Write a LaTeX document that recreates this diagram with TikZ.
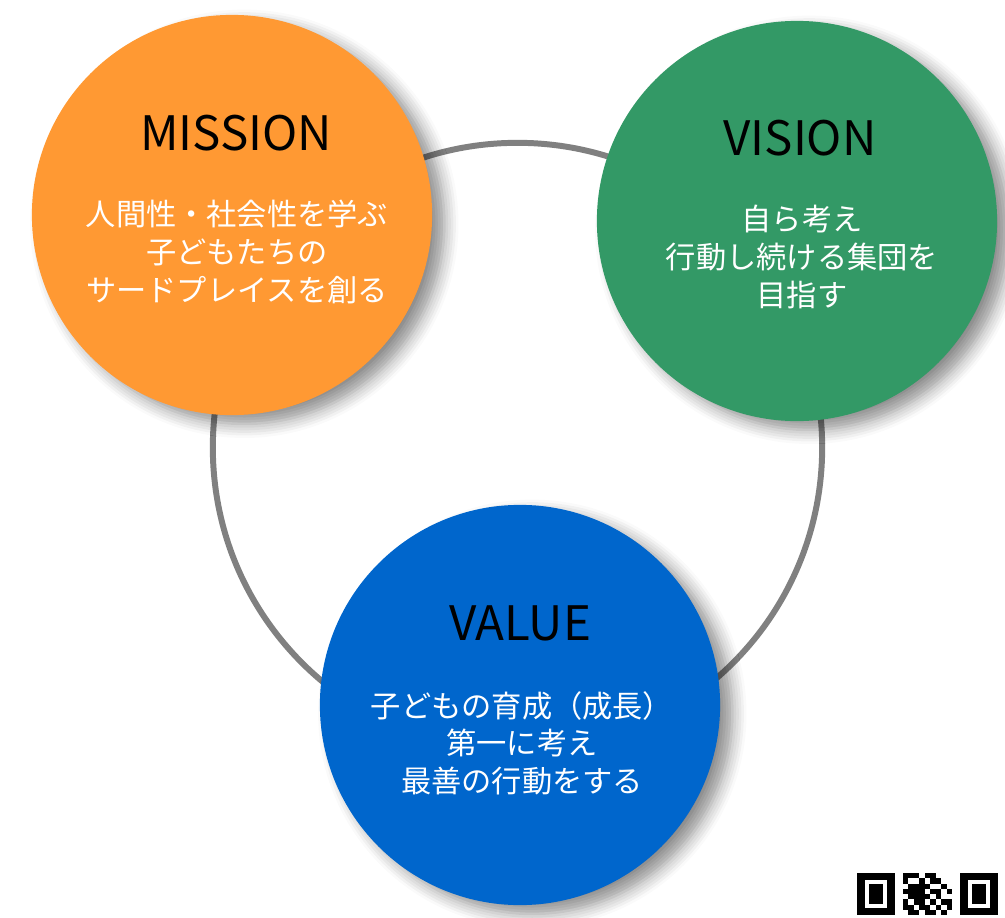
\documentclass[tikz,border=0pt]{standalone}
\usepackage{fontspec}
\setmainfont{Noto Sans CJK JP}
\usetikzlibrary{shadows.blur}

\definecolor{missionorange}{HTML}{FF9933}
\definecolor{visiongreen}{HTML}{339966}
\definecolor{valueblue}{HTML}{0066CC}
\definecolor{ringgray}{HTML}{808080}

\begin{document}
\begin{tikzpicture}[x=0.01cm, y=-0.01cm,
                    ring/.style={draw=ringgray, line width=1.7pt},
                    main node/.style={circle, minimum size=4cm, inner sep=0pt,
                      blur shadow={shadow xshift=3.5pt, shadow yshift=-2.5pt,
                        shadow blur steps=6, shadow blur radius=4pt, shadow opacity=45}},
                    title/.style={font=\fontsize{13.5}{16}\selectfont, text=black},
                    body/.style={font=\fontsize{8.6}{10.7}\selectfont, text=white, align=center}]

  \useasboundingbox (0,0) rectangle (1005,918);

  \coordinate (hub) at (517.5,447.5);
  \draw[ring] (hub) circle [radius=3.045cm];

  \node[main node, fill=missionorange] (mission) at (232,215) {};
  \node[main node, fill=visiongreen] (vision) at (797,221) {};
  \node[main node, fill=valueblue] (value) at (520,705) {};

  \node[title] (missiontitle) at (236,133) {MISSION};
  \node[body] (missiontext) at (237,252) {人間性・社会性を学ぶ\\子どもたちの\\サードプレイスを創る};

  \node[title] (visiontitle) at (800,138) {VISION};
  \node[body] (visiontext) at (802,257) {自ら考え\\行動し続ける集団を\\目指す};

  \node[title] (valuetitle) at (520,623) {VALUE};
  \node[body] (valuetext) at (522,743) {子どもの育成（成長）\\第一に考え\\最善の行動をする};

  \fill (857,873) rectangle (895,915);
  \fill[white] (865,880) rectangle (887,908);
  \fill (869,884) rectangle (883,904);
  \fill (960,873) rectangle (998,915);
  \fill[white] (968,880) rectangle (990,908);
  \fill (972,884) rectangle (986,904);

  \foreach \r/\cols in {0/{0,1,2,4,5}, 1/{0,3,5,6}, 2/{1,2,3,4,7}, 3/{0,1,2,3,5,6,8},
                        4/{1,2,3,4,6}, 5/{0,2,3,5,7,8}, 6/{0,1,3,4,6,8}, 7/{1,2,4,5,7}}
    \foreach \c in \cols
      \fill (903+\c*5.45, 873+\r*5.25) rectangle ++(5.45,5.25);

\end{tikzpicture}
\end{document}
